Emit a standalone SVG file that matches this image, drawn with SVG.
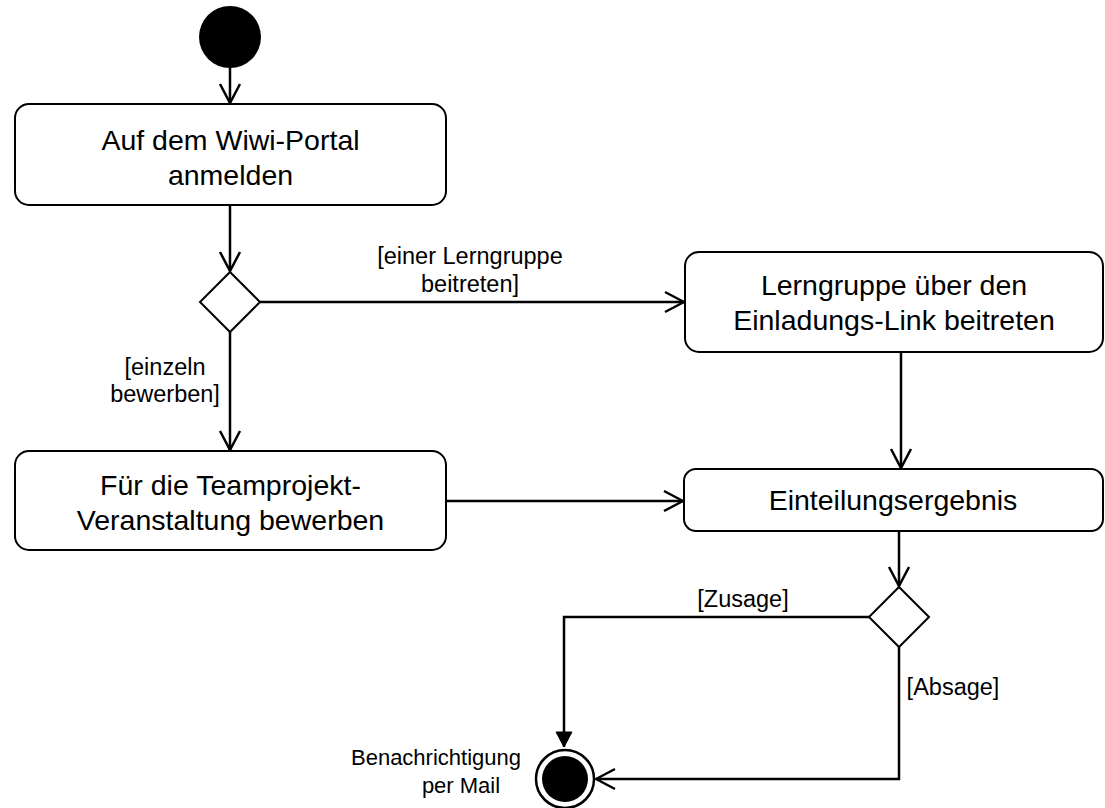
<svg xmlns="http://www.w3.org/2000/svg" width="1105" height="808" viewBox="0 0 1105 808">
<style>
.box{fill:#fff;stroke:#000;stroke-width:2}
.t{font-family:"Liberation Sans",Arial,sans-serif;font-size:28.5px;fill:#000;text-anchor:middle}
.l{font-family:"Liberation Sans",Arial,sans-serif;font-size:23.5px;fill:#000;text-anchor:middle}
.s{font-family:"Liberation Sans",Arial,sans-serif;font-size:22px;fill:#000;text-anchor:middle}
.e{fill:none;stroke:#000;stroke-width:2.5}
</style>
<defs>
<marker id="open" markerUnits="userSpaceOnUse" markerWidth="24" markerHeight="24" viewBox="-22 -12 24 24" refX="0" refY="0" orient="auto">
<path d="M-19,-10 L0,0 L-19,10" fill="none" stroke="#000" stroke-width="2.5"/>
</marker>
<marker id="filled" markerUnits="userSpaceOnUse" markerWidth="20" markerHeight="20" viewBox="-17 -10 18 20" refX="0" refY="0" orient="auto">
<path d="M-15,-8 L0,0 L-15,8 Z" fill="#000" stroke="#000" stroke-width="1"/>
</marker>
</defs>
<g id="connectors">
<line class="e" x1="230" y1="68" x2="230" y2="103" marker-end="url(#open)"/>
<line class="e" x1="230" y1="205" x2="230" y2="271" marker-end="url(#open)"/>
<line class="e" x1="260" y1="302" x2="684" y2="302" marker-end="url(#open)"/>
<line class="e" x1="230" y1="332" x2="230" y2="450" marker-end="url(#open)"/>
<line class="e" x1="901" y1="352" x2="901" y2="468" marker-end="url(#open)"/>
<line class="e" x1="446" y1="501" x2="683" y2="501" marker-end="url(#open)"/>
<line class="e" x1="899" y1="531" x2="899" y2="586" marker-end="url(#open)"/>
<polyline class="e" points="869,617 564,617 564,747" marker-end="url(#filled)"/>
<polyline class="e" points="899,647 899,779 596,779" marker-end="url(#open)"/>
<text class="l" x="470" y="264">[einer Lerngruppe</text>
<text class="l" x="470" y="292">beitreten]</text>
<text class="l" x="165" y="375">[einzeln</text>
<text class="l" x="165" y="402">bewerben]</text>
<text class="l" x="743" y="607">[Zusage]</text>
<text class="l" x="953" y="695">[Absage]</text>
</g>
<g id="start">
<circle cx="230" cy="37" r="31" fill="#000"/>
</g>
<g id="anmelden">
<rect class="box" x="15" y="104" width="431" height="101" rx="14"/>
<text class="t" x="230.5" y="150">Auf dem Wiwi-Portal</text>
<text class="t" x="230.5" y="185">anmelden</text>
</g>
<g id="decision1">
<polygon points="230,272 260,302 230,332 200,302" fill="#fff" stroke="#000" stroke-width="2"/>
</g>
<g id="lerngruppe">
<rect class="box" x="685" y="252" width="418" height="100" rx="14"/>
<text class="t" x="894" y="295">Lerngruppe über den</text>
<text class="t" x="894" y="330">Einladungs-Link beitreten</text>
</g>
<g id="bewerben">
<rect class="box" x="15" y="451" width="431" height="99" rx="14"/>
<text class="t" x="230.5" y="495">Für die Teamprojekt-</text>
<text class="t" x="230.5" y="530">Veranstaltung bewerben</text>
</g>
<g id="einteilung">
<rect class="box" x="684" y="469" width="419" height="62" rx="12"/>
<text class="t" x="893" y="510">Einteilungsergebnis</text>
</g>
<g id="decision2">
<polygon points="899,587 929,617 899,647 869,617" fill="#fff" stroke="#000" stroke-width="2"/>
</g>
<g id="end">
<circle cx="565" cy="779" r="29" fill="#fff" stroke="#000" stroke-width="2.5"/>
<circle cx="565" cy="779" r="23" fill="#000"/>
<text class="s" x="436" y="765">Benachrichtigung</text>
<text class="s" x="461" y="793">per Mail</text>
</g>
</svg>
